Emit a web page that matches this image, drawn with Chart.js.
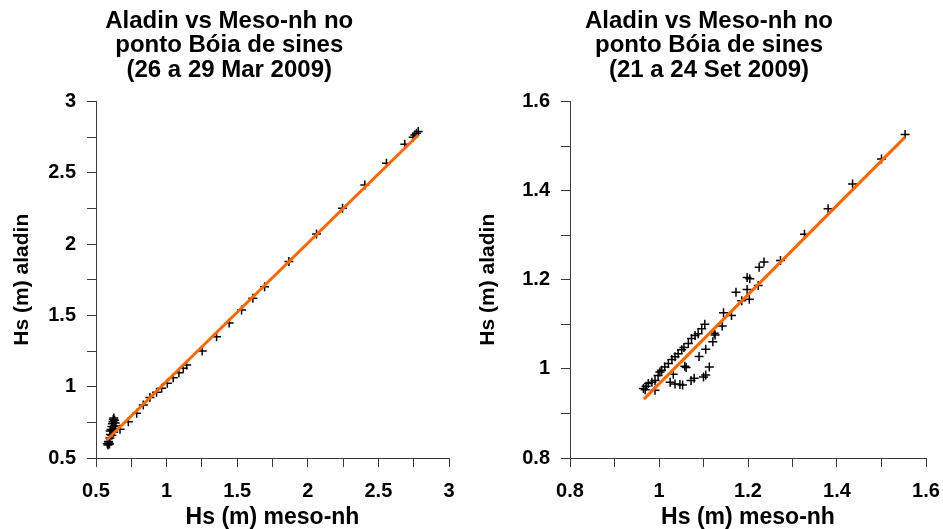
<!DOCTYPE html>
<html>
<head>
<meta charset="utf-8">
<script src="https://cdn.jsdelivr.net/npm/chart.js@4"></script>
<style>
  body { margin: 0; background: #fff; }
  canvas { position: absolute; top: 0; }
  #graficoMar { left: 0; }
  #graficoSet { left: 471px; }
</style>
</head>
<body>
<canvas id="graficoMar" width="471" height="529"></canvas>
<canvas id="graficoSet" width="472" height="529"></canvas>
<script>
// 26 a 29 Mar 2009
let marMeso = [0.580, 0.585, 0.590, 0.596, 0.588, 0.598, 0.602, 0.600, 0.607, 0.612, 0.616, 0.620, 0.622, 0.626, 0.632, 0.636, 0.640, 0.630, 0.620, 0.612, 0.625,
    0.670, 0.729, 0.788, 0.835, 0.882, 0.929, 0.965, 1.005, 1.047, 1.087, 1.118, 1.142, 1.252, 1.354, 1.443, 1.531, 1.611, 1.694, 1.866, 2.062, 2.246, 2.404, 2.557, 2.687, 2.746, 2.758, 2.770, 2.782];
let marAladin = [0.600, 0.592, 0.605, 0.598, 0.615, 0.640, 0.665, 0.690, 0.700, 0.720, 0.740, 0.755, 0.770, 0.780, 0.765, 0.745, 0.725, 0.705, 0.690, 0.660, 0.680,
    0.701, 0.755, 0.813, 0.872, 0.925, 0.961, 0.989, 1.024, 1.063, 1.098, 1.129, 1.152, 1.250, 1.351, 1.447, 1.538, 1.620, 1.701, 1.877, 2.071, 2.251, 2.414, 2.566, 2.700, 2.749, 2.765, 2.777, 2.789];
let marRetaX = [0.576, 2.782];
let marRetaY = [0.626, 2.765];
let marRotulos = [0.5, 1, 1.5, 2, 2.5, 3];

// 21 a 24 Set 2009
let setMeso = [0.965, 0.969, 0.971, 0.976, 0.984, 0.991, 0.991, 0.998, 1.002, 1.006, 1.013, 1.021, 1.029, 1.036, 1.043, 1.051, 1.056, 1.066, 1.073, 1.081, 1.088, 1.096, 1.103,
    1.025, 1.032, 1.036, 1.047, 1.053, 1.058, 1.061, 1.072, 1.079, 1.100, 1.105, 1.113, 1.090, 1.105, 1.121, 1.124, 1.126,
    1.142, 1.145, 1.163, 1.173, 1.186, 1.203, 1.198, 1.204, 1.198, 1.223, 1.225, 1.236, 1.273, 1.327, 1.380, 1.435, 1.500, 1.553];
let setAladin = [0.956, 0.953, 0.961, 0.967, 0.970, 0.974, 0.952, 0.985, 0.993, 0.997, 1.004, 1.012, 1.021, 1.027, 1.034, 1.043, 1.048, 1.057, 1.068, 1.075, 1.079, 1.090, 1.100,
    0.970, 0.988, 0.966, 0.965, 0.964, 1.006, 1.003, 0.974, 0.979, 0.982, 0.986, 1.004, 1.028, 1.044, 1.061, 1.080, 1.076,
    1.096, 1.126, 1.120, 1.172, 1.153, 1.156, 1.178, 1.202, 1.205, 1.187, 1.228, 1.240, 1.243, 1.302, 1.359, 1.415, 1.471, 1.526];
let setRetaX = [0.966, 1.553];
let setRetaY = [0.932, 1.520];
let setRotulos = [0.8, 1, 1.2, 1.4, 1.6];

Chart.defaults.font.family = "'Liberation Sans', Arial, sans-serif";
Chart.defaults.color = '#000';

// empurra o titulo na horizontal
const deslocaTitulo = {
    id: 'deslocaTitulo',
    afterLayout(chart, args, opts) {
        let t = chart.titleBlock;
        if (t && opts.dx) {
            t.left += opts.dx;
            t.right += opts.dx;
        }
    }
};

function pares(xs, ys) {
    return xs.map((x, i) => ({ x: x, y: ys[i] }));
}

function rotulo(lista) {
    return function (value) {
        return lista.some(r => Math.abs(r - value) < 1e-6) ? String(+value.toFixed(2)) : '';
    };
}

function desenharGrafico(idCanvas, cfg) {
    let ctx = document.getElementById(idCanvas).getContext("2d");
    let corEixo = '#3a3a3a';
    return new Chart(ctx, {
        type: 'scatter',
        data: {
            datasets: [{
                data: pares(cfg.retaX, cfg.retaY),
                showLine: true,
                borderColor: '#ff6600',
                borderWidth: 3,
                pointRadius: 0
            }, {
                data: pares(cfg.meso, cfg.aladin),
                pointStyle: 'cross',
                pointRadius: 4.5,
                borderColor: '#000',
                borderWidth: 1.5
            }]
        },
        options: {
            responsive: false,
            animation: false,
            layout: { padding: { left: cfg.padEsq, right: cfg.padDir, top: 0, bottom: 0 } },
            plugins: {
                legend: { display: false },
                tooltip: { enabled: false },
                title: {
                    display: true,
                    text: cfg.titulo,
                    color: '#000',
                    font: { size: 24, weight: 'bold', lineHeight: 1.02 },
                    padding: { top: 9, bottom: 19 }
                },
                deslocaTitulo: { dx: cfg.dx }
            },
            scales: {
                x: {
                    type: 'linear',
                    min: cfg.min,
                    max: cfg.max,
                    ticks: {
                        stepSize: cfg.passo,
                        autoSkip: false,
                        maxRotation: 0,
                        padding: 12,
                        font: { size: 20, weight: 'bold' },
                        callback: rotulo(cfg.rotulos)
                    },
                    grid: { drawOnChartArea: false, drawTicks: true, tickLength: 9, tickColor: corEixo },
                    border: { color: corEixo, width: 1 },
                    title: {
                        display: true,
                        text: 'Hs (m) meso-nh',
                        color: '#000',
                        font: { size: 23, weight: 'bold', lineHeight: 1 },
                        padding: 0
                    },
                    afterFit: function (s) {
                        s.height = 71;
                        s.paddingLeft = 0;
                        s.paddingRight = 0;
                    }
                },
                y: {
                    type: 'linear',
                    min: cfg.min,
                    max: cfg.max,
                    ticks: {
                        stepSize: cfg.passo,
                        autoSkip: false,
                        padding: 11,
                        font: { size: 20, weight: 'bold' },
                        callback: rotulo(cfg.rotulos)
                    },
                    grid: { drawOnChartArea: false, drawTicks: true, tickLength: 9, tickColor: corEixo },
                    border: { color: corEixo, width: 1 },
                    title: {
                        display: true,
                        text: 'Hs (m) aladin',
                        color: '#000',
                        font: { size: 21, weight: 'bold', lineHeight: 1 },
                        padding: 0
                    },
                    afterFit: function (s) {
                        s.width = cfg.larguraY;
                        s.paddingTop = 0;
                        s.paddingBottom = 0;
                    }
                }
            }
        },
        plugins: [deslocaTitulo]
    });
}

desenharGrafico("graficoMar", {
    meso: marMeso, aladin: marAladin, retaX: marRetaX, retaY: marRetaY, rotulos: marRotulos,
    min: 0.5, max: 3, passo: 0.25,
    titulo: ['Aladin vs Meso-nh no', 'ponto Bóia de sines', '(26 a 29 Mar 2009)'],
    padEsq: 11.5, padDir: 22, larguraY: 84.5, dx: -1
});

desenharGrafico("graficoSet", {
    meso: setMeso, aladin: setAladin, retaX: setRetaX, retaY: setRetaY, rotulos: setRotulos,
    min: 0.8, max: 1.6, passo: 0.1,
    titulo: ['Aladin vs Meso-nh no', 'ponto Bóia de sines', '(21 a 24 Set 2009)'],
    padEsq: 7, padDir: 17, larguraY: 92, dx: 7
});
</script>
</body>
</html>
